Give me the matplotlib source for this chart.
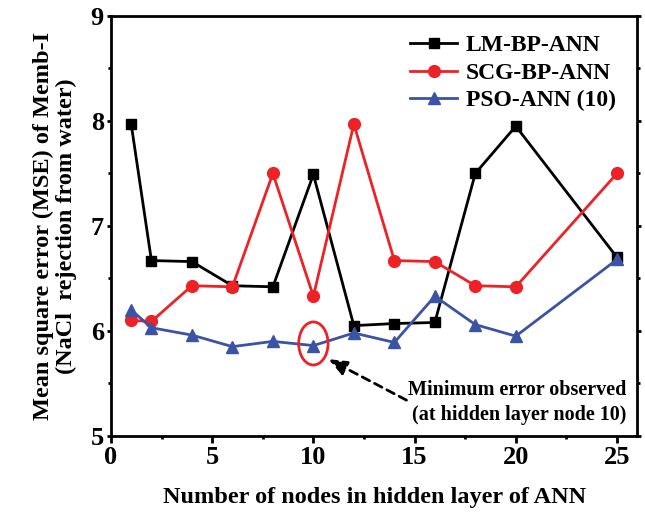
import matplotlib
matplotlib.use("Agg")
import matplotlib.pyplot as plt
from matplotlib.patches import Ellipse
from matplotlib.ticker import MultipleLocator

plt.rcParams['font.family'] = ['Liberation Serif', 'DejaVu Serif']
plt.rcParams['font.weight'] = 'bold'

# Hidden layer node counts
nodes = [1, 2, 4, 6, 8, 10, 12, 14, 16, 18, 20, 25]

# Mean square error for each training method
lm_bp = [7.97, 6.67, 6.66, 6.43, 6.42, 7.49, 6.05, 6.07, 6.08, 7.50, 7.95, 6.70]
scg_bp = [6.10, 6.09, 6.43, 6.42, 7.50, 6.33, 7.97, 6.67, 6.66, 6.43, 6.42, 7.50]
pso = [6.20, 6.03, 5.96, 5.85, 5.90, 5.86, 5.98, 5.89, 6.33, 6.06, 5.95, 6.68]

series_labels = ['LM-BP-ANN', 'SCG-BP-ANN', 'PSO-ANN (10)']
x_ticks = [0, 5, 10, 15, 20, 25]
y_ticks = [5, 6, 7, 8, 9]
best_node = 10

black = '#000000'
red = '#EC2227'
blue = '#3B53A4'

fig = plt.figure(figsize=(6.45, 5.14), dpi=100)
ax = fig.add_axes([0.172, 0.152, 0.816, 0.817])

lw = 2.0
ax.plot(nodes, lm_bp, color=black, lw=lw, marker='s', ms=7, label=series_labels[0], zorder=3)
ax.plot(nodes, scg_bp, color=red, lw=lw, marker='o', ms=8.5, label=series_labels[1], zorder=3)
ax.plot(nodes, pso, color=blue, lw=lw, marker='^', ms=9, label=series_labels[2], zorder=4)

ax.set_xlim(0, 26)
ax.set_ylim(5, 9)
ax.set_xticks(x_ticks)
ax.set_yticks(y_ticks)
ax.xaxis.set_minor_locator(MultipleLocator(2.5))
ax.yaxis.set_minor_locator(MultipleLocator(0.5))

for s in ax.spines.values():
    s.set_linewidth(2.0)

ax.tick_params(axis='both', which='major', direction='out', length=5, width=2,
               labelsize=19, pad=2)
ax.tick_params(axis='both', which='minor', direction='out', length=2.5, width=2)
ax.tick_params(axis='y', which='both', right=True)
ax.tick_params(axis='y', which='major', right=True, length=3)

ax.set_xlabel('Number of nodes in hidden layer of ANN', fontsize=17.5, fontweight='bold', labelpad=13)
ax.set_ylabel('Mean square error (MSE) of Memb-I\n(NaCl  rejection from water)',
              fontsize=17.5, fontweight='bold', labelpad=10, linespacing=1.1)

leg = ax.legend(loc='upper right', frameon=False, fontsize=17, handlelength=2.0,
                handletextpad=0.35, labelspacing=0.25, borderaxespad=0.4,
                bbox_to_anchor=(0.995, 1.0))

# Highlight the minimum-error node of PSO-ANN
best_idx = nodes.index(best_node)
ax.add_patch(Ellipse((best_node, pso[best_idx] + 0.02), 1.45, 0.41, fill=False,
                     edgecolor=red, lw=2.0, zorder=5))
ax.annotate('', xy=(10.75, 5.73), xytext=(14.6, 5.34),
            arrowprops=dict(arrowstyle='-|>,head_length=1.1,head_width=0.45',
                            color=black, lw=2.0, linestyle=(0, (3, 2)),
                            shrinkA=0, shrinkB=0))
ax.text(25.45, 5.32, 'Minimum error observed\n(at hidden layer node 10)',
        ha='right', va='center', fontsize=14.5, fontweight='bold',
        linespacing=1.3)

fig.savefig('out.png', dpi=100)
